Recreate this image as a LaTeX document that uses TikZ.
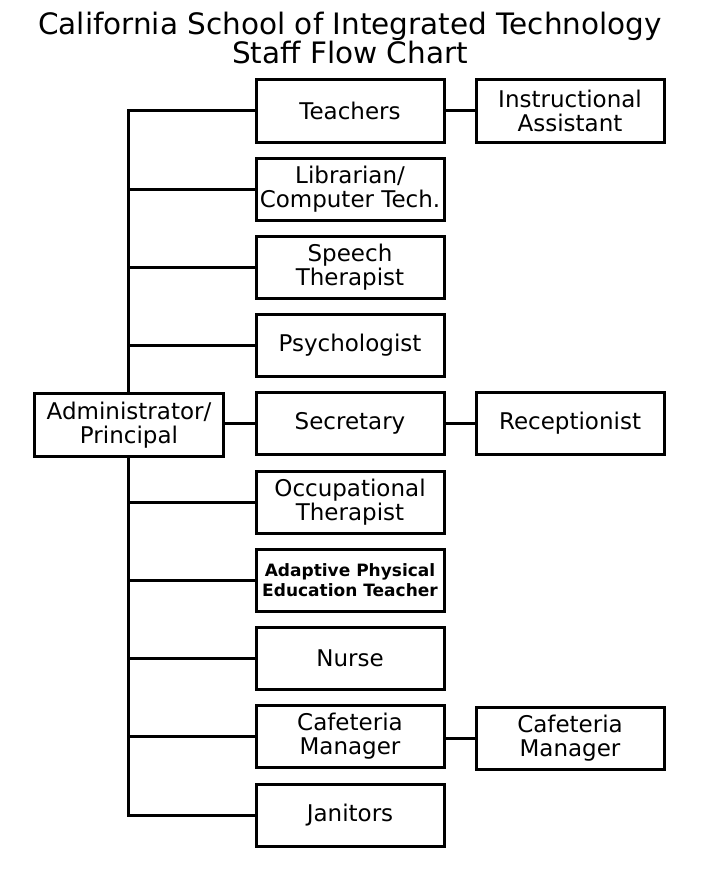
\documentclass[tikz,border=0pt]{standalone}
\usepackage{fontspec}
\setmainfont{DejaVu Sans}
\begin{document}
\begin{tikzpicture}[x=1pt,y=-1pt,
  box/.style={draw,line width=3pt,minimum width=188pt,minimum height=62pt,align=center,inner sep=0pt,font=\fontsize{23}{24}\selectfont},
  link/.style={line width=3pt}]
\useasboundingbox (0,0) rectangle (704,872);
\node[font=\fontsize{29.5}{29}\selectfont,align=center] (title) at (350,38) {California School of Integrated Technology\\Staff Flow Chart};
\node[box] (teach) at (350,111) {Teachers};
\node[box] (lib) at (350,189) {Librarian/\\Computer Tech.};
\node[box] (speech) at (350,267) {Speech\\Therapist};
\node[box] (psych) at (350,345) {Psychologist};
\node[box] (sec) at (350,423) {Secretary};
\node[box] (occ) at (350,502) {Occupational\\Therapist};
\node[box,font=\bfseries\fontsize{17}{20}\selectfont] (ape) at (350,580) {Adaptive Physical\\Education Teacher};
\node[box] (nurse) at (350,658) {Nurse};
\node[box] (cafe) at (350,736) {Cafeteria\\Manager};
\node[box] (jan) at (350,815) {Janitors};
\node[box] (ia) at (570,111) {Instructional\\Assistant};
\node[box] (rec) at (570,423) {Receptionist};
\node[box] (cafe2) at (570,738) {Cafeteria\\Manager};
\node[box,minimum width=189pt,minimum height=63pt] (admin) at (129,425) {Administrator/\\Principal};
\coordinate (j1) at (128,111);
\coordinate (j2) at (128,189);
\coordinate (j3) at (128,267);
\coordinate (j4) at (128,345);
\coordinate (j6) at (128,502);
\coordinate (j7) at (128,580);
\coordinate (j8) at (128,658);
\coordinate (j9) at (128,736);
\coordinate (j10) at (128,815);
\draw[link] (teach.west) -- (j1) -- (j1 |- admin.north);
\draw[link] (j1 |- admin.south) -- (j10) -- (jan.west);
\draw[link] (j2) -- (lib.west);
\draw[link] (j3) -- (speech.west);
\draw[link] (j4) -- (psych.west);
\draw[link] (admin.east |- sec) -- (sec.west);
\draw[link] (j6) -- (occ.west);
\draw[link] (j7) -- (ape.west);
\draw[link] (j8) -- (nurse.west);
\draw[link] (j9) -- (cafe.west);
\draw[link] (teach.east) -- (ia.west);
\draw[link] (sec.east) -- (rec.west);
\draw[link] (cafe.east |- cafe2) -- (cafe2.west);
\end{tikzpicture}
\end{document}
